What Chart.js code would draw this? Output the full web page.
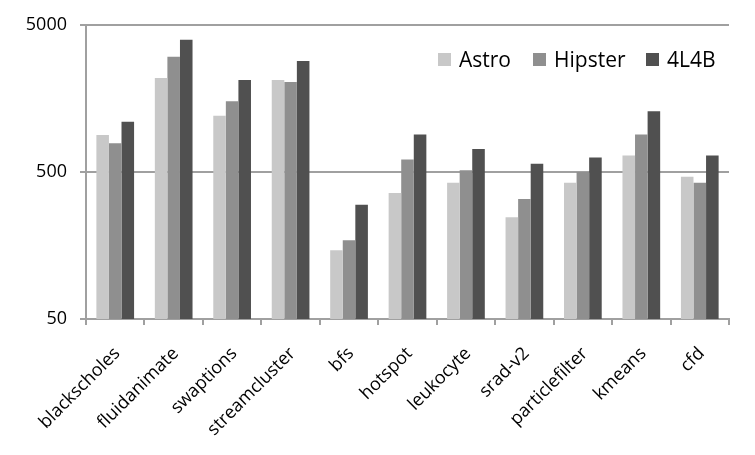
<!DOCTYPE html>
<html>
<head>
<meta charset="utf-8">
<script src="https://cdn.jsdelivr.net/npm/chart.js@4/dist/chart.umd.min.js"></script>
<style>
html,body{margin:0;padding:0;background:#fff;}
#wrap{width:755px;height:455px;position:relative;}
</style>
</head>
<body>
<div id="wrap"><canvas id="c" width="755" height="455"></canvas></div>
<script>
const categories = ["blackscholes","fluidanimate","swaptions","streamcluster","bfs","hotspot","leukocyte","srad-v2","particlefilter","kmeans","cfd"];
const astro   = [894, 2183, 1209, 2114, 147, 360, 422, 246, 422, 647, 465];
const hipster = [783, 3045, 1516, 2049, 172, 608, 514, 328, 500, 899, 422];
const l4b     = [1099, 3967, 2114, 2844, 299, 899, 716, 568, 627, 1294, 647];
const yTicks  = [50, 500, 5000];
const seriesNames = ["Astro", "Hipster", "4L4B"];
const seriesColors = ["#c8c8c8", "#8f8f8f", "#505050"];

const FONT = "'Open Sans', 'Liberation Sans', sans-serif";
const GRID = "#a0a0a0";

const legendPlugin = {
  id: 'insideLegend',
  afterDraw(chart) {
    const ctx = chart.ctx;
    const xs = [438, 533, 646];
    const cy = 60;
    ctx.save();
    ctx.font = "21px " + FONT;
    ctx.textBaseline = 'middle';
    ctx.textAlign = 'left';
    chart.data.datasets.forEach((ds, i) => {
      ctx.fillStyle = ds.backgroundColor;
      ctx.fillRect(xs[i], cy - 7, 13, 13);
      ctx.fillStyle = '#000';
      ctx.fillText(ds.label, xs[i] + 21, cy + 1);
    });
    ctx.restore();
  }
};

new Chart(document.getElementById('c'), {
  type: 'bar',
  data: {
    labels: categories,
    datasets: [
      {label: seriesNames[0], data: astro, backgroundColor: seriesColors[0]},
      {label: seriesNames[1], data: hipster, backgroundColor: seriesColors[1]},
      {label: seriesNames[2], data: l4b, backgroundColor: seriesColors[2]}
    ]
  },
  options: {
    responsive: false,
    animation: false,
    layout: {padding: {left: 0, right: 26, top: 25, bottom: 0}},
    datasets: {bar: {categoryPercentage: 0.645, barPercentage: 1.0, borderWidth: 0}},
    plugins: {legend: {display: false}, tooltip: {enabled: false}},
    scales: {
      x: {
        offset: true,
        grid: {display: true, offset: true, drawOnChartArea: false, drawTicks: true, tickLength: 6, color: GRID, lineWidth: 2},
        border: {display: true, color: GRID, width: 2},
        ticks: {autoSkip: false, maxRotation: 45, minRotation: 45, color: '#000', font: {family: FONT, size: 18}, padding: 18, labelOffset: 2},
        afterFit(s) { s.height = 136; }
      },
      y: {
        type: 'logarithmic',
        min: 50, max: 5000,
        grid: {display: true, drawTicks: true, tickLength: 6, color: GRID, lineWidth: 2},
        border: {display: true, color: GRID, width: 2},
        ticks: {color: '#000', font: {family: FONT, size: 18}, padding: 13, callback: v => String(v)},
        afterBuildTicks(s) { s.ticks = yTicks.map(v => ({value: v})); },
        afterFit(s) { s.width = 86; }
      }
    }
  },
  plugins: [legendPlugin]
});
</script>
</body>
</html>
